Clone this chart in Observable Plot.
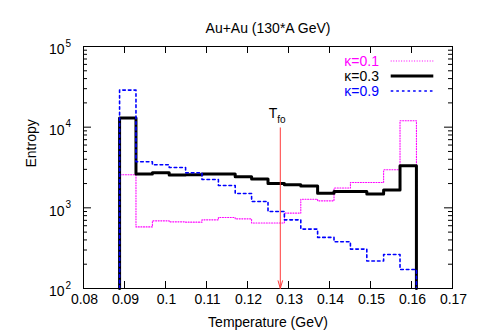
<!DOCTYPE html>
<html><head><meta charset="utf-8">
<script src="https://cdn.jsdelivr.net/npm/d3@7"></script>
<script src="https://cdn.jsdelivr.net/npm/@observablehq/plot@0.6"></script>
<style>body{margin:0;background:#fff;}</style>
</head><body><div id="chart"></div>
<script>
// ---- data ----
const binEdges = [0.0888, 0.0928, 0.0968, 0.1009, 0.1049, 0.1089, 0.1129, 0.1170, 0.1210, 0.1250,
                  0.1290, 0.1330, 0.1371, 0.1411, 0.1451, 0.1491, 0.1532, 0.1572, 0.1612];
const kappa01 = [2570, 580, 690, 670, 665, 710, 760, 730, 650, 650, 860, 1280, 1220, 1760, 2060, 2060, 2960, 12000];
const kappa03 = [12950, 2620, 2720, 2545, 2570, 2620, 2620, 2425, 2270, 2000, 1930, 1860, 1520, 1595, 1595, 1480, 1660, 3320];
const kappa09 = [28800, 3720, 3415, 3160, 2720, 2245, 1890, 1505, 1200, 900, 710, 545, 430, 380, 308, 219, 264, 172];
const seriesLabels = ["κ=0.1", "κ=0.3", "κ=0.9"];
const xTicks = [0.08, 0.09, 0.10, 0.11, 0.12, 0.13, 0.14, 0.15, 0.16, 0.17];
const xTickLabels = ["0.08", "0.09", "0.1", "0.11", "0.12", "0.13", "0.14", "0.15", "0.16", "0.17"];
const yMajor = [100, 1000, 10000, 100000];
const yExponents = ["2", "3", "4", "5"];
const tfo = [{x: 0.128, top: 9800, label: "T", sub: "fo"}];
const title = "Au+Au (130*A GeV)";
const xLabel = "Temperature (GeV)";
const yLabel = "Entropy";

// ---- styles ----
const colors = ["#ff00ff", "#000000", "#0000ff"];
const widths = [1.1, 3, 1.6];
const dashes = ["1,1.6", null, "2.6,3"];
const yMin = 100, yMax = 100000;
const minorMult = [2, 3, 4, 5, 6, 7, 8, 9];
const yMinor = yMajor.slice(0, -1).flatMap(m => minorMult.map(k => m * k));

function steps(vals) {
  const n = vals.length;
  const pts = [{x: binEdges[0], y: yMin}];
  vals.forEach((v, i) => pts.push({x: binEdges[i], y: v}));
  pts.push({x: binEdges[n], y: vals[n - 1]});
  pts.push({x: binEdges[n], y: yMin});
  return pts;
}
const series = [kappa01, kappa03, kappa09];

const W = 480, H = 335, mL = 83, mR = 28, mT = 46, mB = 47;
const fw = W - mL - mR, fh = H - mT - mB;
const font = "'Liberation Sans', Arial, Helvetica, sans-serif";

function legendMark(index, scales, values, dims) {
  const right = dims.width - dims.marginRight, top = dims.marginTop;
  const g = d3.create("svg:g");
  seriesLabels.forEach((lab, i) => {
    const y = top + 15 + i * 15;
    g.append("text").attr("x", right - 73).attr("y", y + 0.5).attr("dy", "0.35em")
      .attr("text-anchor", "end").attr("fill", colors[i]).attr("font-size", 14)
      .attr("font-family", font).text(lab);
    const ln = g.append("line").attr("x1", right - 61.3).attr("x2", right - 18.7)
      .attr("y1", y).attr("y2", y).attr("stroke", colors[i]).attr("stroke-width", widths[i]);
    if (dashes[i]) ln.attr("stroke-dasharray", dashes[i]);
  });
  return g.node();
}

const plot = Plot.plot({
  width: W, height: H,
  marginLeft: mL, marginRight: mR, marginTop: mT, marginBottom: mB,
  style: {background: "white", fontFamily: font, fontSize: "14px", color: "black"},
  x: {domain: [0.08, 0.17], axis: null},
  y: {type: "log", domain: [yMin, yMax], axis: null},
  marks: [
    ...series.map((s, i) => Plot.line(steps(s), {
      x: "x", y: "y", curve: "step-after",
      stroke: colors[i], strokeWidth: widths[i], strokeDasharray: dashes[i] || undefined
    })),
    Plot.frame({stroke: "black", strokeWidth: 1}),
    Plot.tickX(xTicks, {x: d => d, insetTop: fh - 7, stroke: "black"}),
    Plot.tickX(xTicks, {x: d => d, insetBottom: fh - 7, stroke: "black"}),
    Plot.tickY(yMajor, {y: d => d, insetRight: fw - 8, stroke: "black"}),
    Plot.tickY(yMajor, {y: d => d, insetLeft: fw - 8, stroke: "black"}),
    Plot.tickY(yMinor, {y: d => d, insetRight: fw - 4, stroke: "black"}),
    Plot.tickY(yMinor, {y: d => d, insetLeft: fw - 4, stroke: "black"}),
    Plot.text(xTicks, {x: d => d, frameAnchor: "bottom", text: (d, i) => xTickLabels[i], dy: 15, dx: 1, fontSize: 14}),
    Plot.text(yMajor, {y: d => d, frameAnchor: "left", text: () => "10", textAnchor: "end", dx: -19, dy: 3.5, fontSize: 14}),
    Plot.text(yMajor, {y: d => d, frameAnchor: "left", text: (d, i) => yExponents[i], textAnchor: "start", dx: -18, dy: -3, fontSize: 10}),
    Plot.arrow(tfo, {x1: "x", x2: "x", y1: "top", y2: () => yMin, stroke: "#ff3b3b", strokeWidth: 1, headAngle: 32, headLength: 12}),
    Plot.text(tfo, {x: "x", y: "top", text: "label", textAnchor: "end", lineAnchor: "bottom", dx: -3, dy: -10, fontSize: 14}),
    Plot.text(tfo, {x: "x", y: "top", text: "sub", textAnchor: "start", lineAnchor: "bottom", dx: -3, dy: -5, fontSize: 10}),
    Plot.text([title], {frameAnchor: "top", dy: -23, fontSize: 14}),
    Plot.text([xLabel], {frameAnchor: "bottom", dy: 38, fontSize: 14}),
    Plot.text([yLabel], {frameAnchor: "left", dx: -52, rotate: -90, fontSize: 14}),
    legendMark
  ]
});
document.getElementById("chart").appendChild(plot);
</script>
</body></html>
